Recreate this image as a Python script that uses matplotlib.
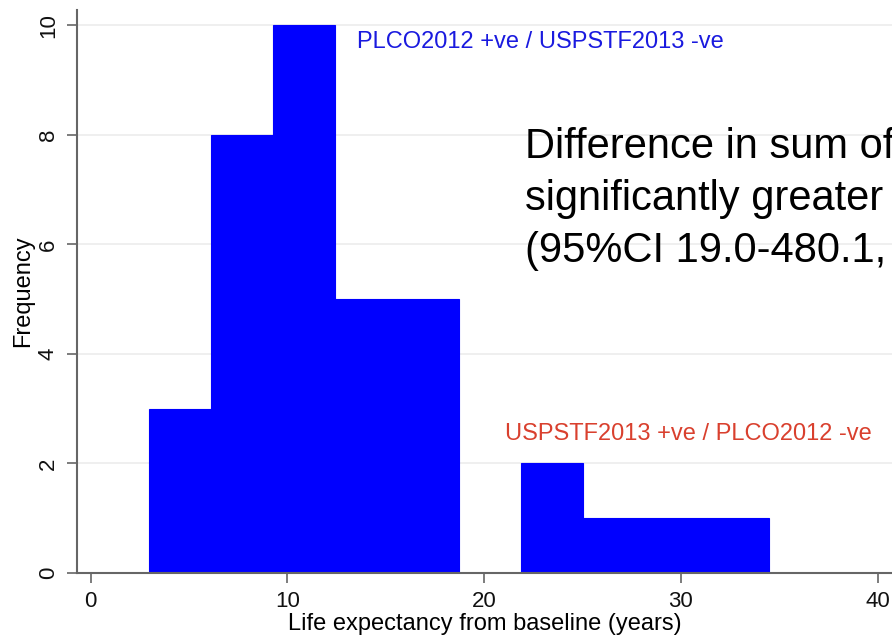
import numpy as np
import matplotlib.pyplot as plt

plt.rcParams['font.family'] = ['Liberation Sans', 'DejaVu Sans']

# Histogram bins (years) and frequencies
bin_edges = [2.94, 6.10, 9.25, 12.41, 15.57, 18.72, 21.88, 25.03, 28.19, 31.34, 34.50]
counts = [3, 8, 10, 5, 5, 0, 2, 1, 1, 1]

x_ticks = [0, 10, 20, 30, 40]
y_ticks = [0, 2, 4, 6, 8, 10]

label_top = "PLCO2012 +ve / USPSTF2013 -ve"
label_bottom = "USPSTF2013 +ve / PLCO2012 -ve"
big_text = ["Difference in sum of", "significantly greater", "(95%CI 19.0-480.1,"]

fig = plt.figure(figsize=(8.92, 6.36), dpi=100)
ax = fig.add_axes([77 / 892, 63 / 636, 1 - 77 / 892, 563 / 636])

edges = np.array(bin_edges)
ax.bar(edges[:-1], counts, width=np.diff(edges), align='edge',
       color='#0000ff', edgecolor='#0000ff', linewidth=0.8, zorder=2)

ax.set_xlim(-0.70, 40.73)
ax.set_ylim(0, 10.28)
ax.set_xticks(x_ticks)
ax.set_yticks(y_ticks)
ax.grid(axis='y', color='#ececec', linewidth=1.2, zorder=0)
ax.set_axisbelow(True)

for s in ['top', 'right']:
    ax.spines[s].set_visible(False)
for s in ['left', 'bottom']:
    ax.spines[s].set_color('#666666')
    ax.spines[s].set_linewidth(1.5)

ax.tick_params(axis='both', length=7, width=1.2, color='#666666',
               labelsize=16, labelcolor='#111111', pad=6)
plt.setp(ax.get_yticklabels(), rotation=90, va='center')

ax.set_xlabel("Life expectancy from baseline (years)", fontsize=17, labelpad=1)
ax.set_ylabel("Frequency", fontsize=17, labelpad=3)

ax.text(13.55, 9.58, label_top, color='#1a1adf', fontsize=17, va='baseline')
ax.text(21.05, 2.43, label_bottom, color='#d9402e', fontsize=17, va='baseline')
for i, line in enumerate(big_text):
    ax.text(22.08, 7.58 - 0.955 * i, line, color='black', fontsize=30, va='baseline')

fig.savefig('out.png', dpi=100)
